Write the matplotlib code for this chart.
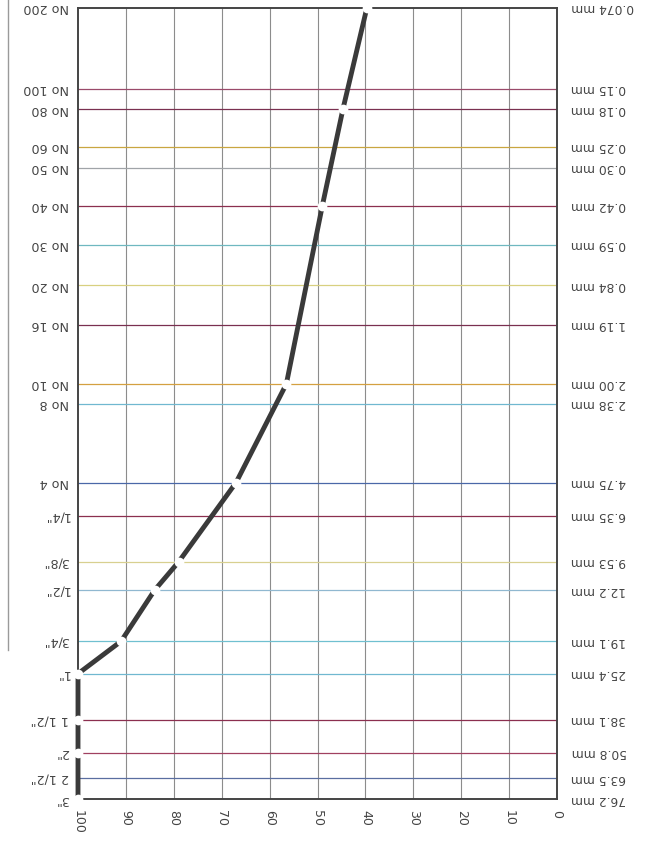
import matplotlib
matplotlib.use("Agg")
import matplotlib.pyplot as plt
from matplotlib.lines import Line2D

# sieve sizes (mm) and their names
sizes_mm = [0.074, 0.15, 0.18, 0.25, 0.30, 0.42, 0.59, 0.84, 1.19, 2.00, 2.38,
            4.75, 6.35, 9.53, 12.2, 19.1, 25.4, 38.1, 50.8, 63.5, 76.2]
sieve_labels = ['No 200', 'No 100', 'No 80', 'No 60', 'No 50', 'No 40', 'No 30',
                'No 20', 'No 16', 'No 10', 'No 8', 'No 4', '1/4"', '3/8"', '1/2"',
                '3/4"', '1"', '1 1/2"', '2"', '2 1/2"', '3"']
size_labels = ['0.074 mm', '0.15 mm', '0.18 mm', '0.25 mm', '0.30 mm', '0.42 mm',
               '0.59 mm', '0.84 mm', '1.19 mm', '2.00 mm', '2.38 mm', '4.75 mm',
               '6.35 mm', '9.53 mm', '12.2 mm', '19.1 mm', '25.4 mm', '38.1 mm',
               '50.8 mm', '63.5 mm', '76.2 mm']
line_colors = ['#444444', '#9a4a6a', '#7a3050', '#c9a640', '#a0a4a8', '#8b2f4f',
               '#6fb8c0', '#d8d080', '#7a3050', '#d4a040', '#70b8d0', '#4a68a8',
               '#8b2f4f', '#d8d090', '#90b8d0', '#70c0d0', '#70b8d0', '#8b2f4f',
               '#a04060', '#5a6ea0', '#444444']

# grading curve (percent, size)
curve_size = [76.2, 50.8, 38.1, 25.4, 19.1, 12.2, 9.53, 4.75, 2.00, 0.42, 0.18, 0.074]
curve_pct = [100, 100, 100, 100, 91, 84, 79, 67, 56.5, 49, 44.7, 39.7]

pct_ticks = [100, 90, 80, 70, 60, 50, 40, 30, 20, 10, 0]

fig = plt.figure(figsize=(6.47, 8.56), dpi=100)
ax = fig.add_axes([78/647, 1 - 799/856, (557 - 78)/647, (799 - 8)/856])

ax.set_yscale('log')
ax.set_xlim(100, 0)
ax.set_ylim(76.2, 0.074)

for p in pct_ticks[1:-1]:
    ax.axvline(p, color='#8c8c8c', lw=0.8, zorder=1)

for s, c in zip(sizes_mm[1:-1], line_colors[1:-1]):
    ax.axhline(s, color=c, lw=0.9, zorder=2)

ax.plot(curve_pct, curve_size, color='#3a3a3a', lw=3.5, solid_capstyle='butt',
        marker='o', ms=7, mfc='white', mec='white', mew=0,
        zorder=5, clip_on=False)

for sp in ax.spines.values():
    sp.set_color('#444444')
    sp.set_linewidth(1.4)

ax.set_xticks(pct_ticks)
ax.set_xticklabels([str(p) for p in pct_ticks], rotation=270, fontsize=9,
                   color='#444444')
ax.tick_params(axis='x', length=0, pad=8)
ax.set_yticks([])
ax.yaxis.set_minor_locator(matplotlib.ticker.NullLocator())

ytr = ax.get_yaxis_transform()
for s, lab in zip(sizes_mm, sieve_labels):
    ax.text(-0.018, s, lab, transform=ytr, rotation=180, ha='right', va='center',
            fontsize=9.2, color='#444444', clip_on=False)
for s, lab in zip(sizes_mm, size_labels):
    ax.text(1.03, s, lab, transform=ytr, rotation=180, ha='left', va='center',
            fontsize=8.8, color='#444444', clip_on=False)

# scan border on the far left
fig.add_artist(Line2D([8/647, 8/647], [1, 1 - 650/856], color='#9a9a9a', lw=1))

fig.savefig('out.png', dpi=100)
